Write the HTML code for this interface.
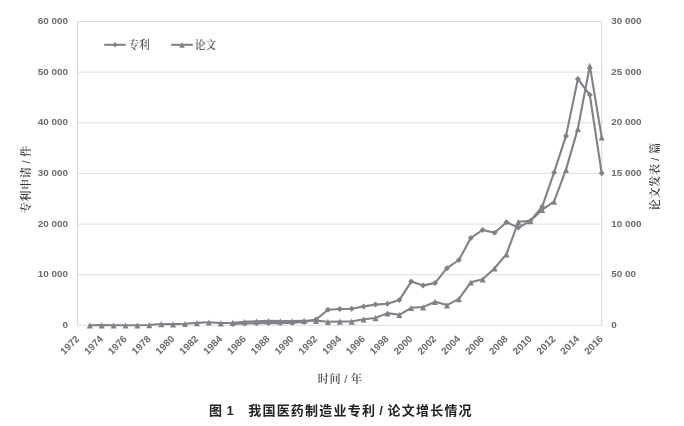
<!DOCTYPE html>
<html lang="zh"><head><meta charset="utf-8"><title>图 1</title>
<style>html,body{margin:0;padding:0;background:#fff}svg{display:block}
.t{font-family:"Liberation Sans","Noto Sans CJK SC",sans-serif;font-weight:bold;font-size:9.9px;fill:#6b6b6b}
.s{font-family:"Liberation Serif","Noto Serif CJK SC",serif;font-size:10.8px;font-weight:600;fill:#5c5c5c}
.a{font-family:"Liberation Serif","Noto Serif CJK SC",serif;font-size:11.2px;font-weight:600;fill:#3a3a3a;letter-spacing:0.5px;word-spacing:-0.3px}
.b{font-family:"Liberation Serif","Noto Serif CJK SC",serif;font-size:11.2px;font-weight:600;fill:#4a4a4a;letter-spacing:0.5px;word-spacing:-0.3px}
.c{font-family:"Liberation Sans","Noto Sans CJK SC",sans-serif;font-weight:bold;font-size:13px;fill:#222;letter-spacing:1.22px}
.sl{font-family:"Liberation Sans",sans-serif;font-weight:normal}
.c1{font-family:"Liberation Sans",sans-serif;font-size:13px;font-weight:bold;fill:#2a2a2a}
</style></head><body>
<svg width="684" height="426" viewBox="0 0 684 426">
<rect width="684" height="426" fill="#fff"/>
<line x1="77.6" y1="325.40" x2="601.7" y2="325.40" stroke="#e0e0e0" stroke-width="1"/>
<line x1="77.6" y1="274.75" x2="601.7" y2="274.75" stroke="#e0e0e0" stroke-width="1"/>
<line x1="77.6" y1="224.10" x2="601.7" y2="224.10" stroke="#e0e0e0" stroke-width="1"/>
<line x1="77.6" y1="173.45" x2="601.7" y2="173.45" stroke="#e0e0e0" stroke-width="1"/>
<line x1="77.6" y1="122.80" x2="601.7" y2="122.80" stroke="#e0e0e0" stroke-width="1"/>
<line x1="77.6" y1="72.15" x2="601.7" y2="72.15" stroke="#e0e0e0" stroke-width="1"/>
<line x1="77.6" y1="21.50" x2="601.7" y2="21.50" stroke="#e0e0e0" stroke-width="1"/>
<line x1="77.6" y1="21.5" x2="77.6" y2="325.4" stroke="#d4d4d8" stroke-width="1"/>
<line x1="601.7" y1="21.5" x2="601.7" y2="325.4" stroke="#d4d4d8" stroke-width="1"/>
<text class="t" x="67.9" y="327.9" text-anchor="end">0</text>
<text class="t" x="611.2" y="327.9">0</text>
<text class="t" x="67.9" y="277.2" text-anchor="end">10 000</text>
<text class="t" x="611.2" y="277.2">50 00</text>
<text class="t" x="67.9" y="226.6" text-anchor="end">20 000</text>
<text class="t" x="611.2" y="226.6">10 000</text>
<text class="t" x="67.9" y="175.9" text-anchor="end">30 000</text>
<text class="t" x="611.2" y="175.9">15 000</text>
<text class="t" x="67.9" y="125.3" text-anchor="end">40 000</text>
<text class="t" x="611.2" y="125.3">20 000</text>
<text class="t" x="67.9" y="74.6" text-anchor="end">50 000</text>
<text class="t" x="611.2" y="74.6">25 000</text>
<text class="t" x="67.9" y="24.0" text-anchor="end">60 000</text>
<text class="t" x="611.2" y="24.0">30 000</text>
<text class="t" text-anchor="end" transform="translate(79.9 339.6) rotate(-45)">1972</text>
<text class="t" text-anchor="end" transform="translate(103.7 339.6) rotate(-45)">1974</text>
<text class="t" text-anchor="end" transform="translate(127.5 339.6) rotate(-45)">1976</text>
<text class="t" text-anchor="end" transform="translate(151.3 339.6) rotate(-45)">1978</text>
<text class="t" text-anchor="end" transform="translate(175.1 339.6) rotate(-45)">1980</text>
<text class="t" text-anchor="end" transform="translate(198.9 339.6) rotate(-45)">1982</text>
<text class="t" text-anchor="end" transform="translate(222.8 339.6) rotate(-45)">1984</text>
<text class="t" text-anchor="end" transform="translate(246.6 339.6) rotate(-45)">1986</text>
<text class="t" text-anchor="end" transform="translate(270.4 339.6) rotate(-45)">1988</text>
<text class="t" text-anchor="end" transform="translate(294.2 339.6) rotate(-45)">1990</text>
<text class="t" text-anchor="end" transform="translate(318.0 339.6) rotate(-45)">1992</text>
<text class="t" text-anchor="end" transform="translate(341.8 339.6) rotate(-45)">1994</text>
<text class="t" text-anchor="end" transform="translate(365.6 339.6) rotate(-45)">1996</text>
<text class="t" text-anchor="end" transform="translate(389.4 339.6) rotate(-45)">1998</text>
<text class="t" text-anchor="end" transform="translate(413.2 339.6) rotate(-45)">2000</text>
<text class="t" text-anchor="end" transform="translate(437.0 339.6) rotate(-45)">2002</text>
<text class="t" text-anchor="end" transform="translate(460.9 339.6) rotate(-45)">2004</text>
<text class="t" text-anchor="end" transform="translate(484.7 339.6) rotate(-45)">2006</text>
<text class="t" text-anchor="end" transform="translate(508.5 339.6) rotate(-45)">2008</text>
<text class="t" text-anchor="end" transform="translate(532.3 339.6) rotate(-45)">2010</text>
<text class="t" text-anchor="end" transform="translate(556.1 339.6) rotate(-45)">2012</text>
<text class="t" text-anchor="end" transform="translate(579.9 339.6) rotate(-45)">2014</text>
<text class="t" text-anchor="end" transform="translate(603.7 339.6) rotate(-45)">2016</text>
<polyline fill="none" stroke="#808287" stroke-width="2.1" stroke-linejoin="round" stroke-linecap="round" points="232.7,323.9 244.6,323.5 256.5,323.3 268.4,322.9 280.3,323.1 292.2,322.7 304.1,321.9 316.0,319.6 327.9,309.8 339.8,309.0 351.7,308.7 363.6,306.4 375.5,304.6 387.4,303.8 399.3,300.1 411.2,281.6 423.1,285.4 435.0,283.1 447.0,268.2 458.9,260.0 470.8,238.0 482.7,229.9 494.6,232.7 506.5,222.3 518.4,227.6 530.3,221.0 542.2,206.7 554.1,172.4 566.0,135.9 577.9,79.0 589.8,94.8 601.7,173.3"/>
<polyline fill="none" stroke="#808287" stroke-width="2.1" stroke-linejoin="round" stroke-linecap="round" points="89.8,325.2 101.7,325.1 113.6,325.3 125.5,325.3 137.4,325.2 149.3,325.0 161.2,324.0 173.1,324.1 185.0,323.8 196.9,322.9 208.9,322.3 220.8,323.1 232.7,322.7 244.6,321.9 256.5,321.3 268.4,320.9 280.3,321.1 292.2,321.1 304.1,320.7 316.0,320.6 327.9,321.8 339.8,321.5 351.7,321.5 363.6,319.2 375.5,318.0 387.4,313.1 399.3,314.8 411.2,307.8 423.1,307.1 435.0,301.7 447.0,305.1 458.9,298.9 470.8,282.3 482.7,279.2 494.6,268.2 506.5,254.1 518.4,221.8 530.3,220.9 542.2,209.8 554.1,201.4 566.0,169.6 577.9,128.6 589.8,65.7 601.7,137.3"/>
<path fill="#808287" d="M232.7 320.9L235.7 323.9L232.7 326.9L229.7 323.9Z"/>
<path fill="#808287" d="M244.6 320.5L247.6 323.5L244.6 326.5L241.6 323.5Z"/>
<path fill="#808287" d="M256.5 320.3L259.5 323.3L256.5 326.3L253.5 323.3Z"/>
<path fill="#808287" d="M268.4 319.9L271.4 322.9L268.4 325.9L265.4 322.9Z"/>
<path fill="#808287" d="M280.3 320.1L283.3 323.1L280.3 326.1L277.3 323.1Z"/>
<path fill="#808287" d="M292.2 319.7L295.2 322.7L292.2 325.7L289.2 322.7Z"/>
<path fill="#808287" d="M304.1 318.9L307.1 321.9L304.1 324.9L301.1 321.9Z"/>
<path fill="#808287" d="M316.0 316.6L319.0 319.6L316.0 322.6L313.0 319.6Z"/>
<path fill="#808287" d="M327.9 306.8L330.9 309.8L327.9 312.8L324.9 309.8Z"/>
<path fill="#808287" d="M339.8 306.0L342.8 309.0L339.8 312.0L336.8 309.0Z"/>
<path fill="#808287" d="M351.7 305.7L354.7 308.7L351.7 311.7L348.7 308.7Z"/>
<path fill="#808287" d="M363.6 303.4L366.6 306.4L363.6 309.4L360.6 306.4Z"/>
<path fill="#808287" d="M375.5 301.6L378.5 304.6L375.5 307.6L372.5 304.6Z"/>
<path fill="#808287" d="M387.4 300.8L390.4 303.8L387.4 306.8L384.4 303.8Z"/>
<path fill="#808287" d="M399.3 297.1L402.3 300.1L399.3 303.1L396.3 300.1Z"/>
<path fill="#808287" d="M411.2 278.6L414.2 281.6L411.2 284.6L408.2 281.6Z"/>
<path fill="#808287" d="M423.1 282.4L426.1 285.4L423.1 288.4L420.1 285.4Z"/>
<path fill="#808287" d="M435.0 280.1L438.0 283.1L435.0 286.1L432.0 283.1Z"/>
<path fill="#808287" d="M447.0 265.2L450.0 268.2L447.0 271.2L444.0 268.2Z"/>
<path fill="#808287" d="M458.9 257.0L461.9 260.0L458.9 263.0L455.9 260.0Z"/>
<path fill="#808287" d="M470.8 235.0L473.8 238.0L470.8 241.0L467.8 238.0Z"/>
<path fill="#808287" d="M482.7 226.9L485.7 229.9L482.7 232.9L479.7 229.9Z"/>
<path fill="#808287" d="M494.6 229.7L497.6 232.7L494.6 235.7L491.6 232.7Z"/>
<path fill="#808287" d="M506.5 219.3L509.5 222.3L506.5 225.3L503.5 222.3Z"/>
<path fill="#808287" d="M518.4 224.6L521.4 227.6L518.4 230.6L515.4 227.6Z"/>
<path fill="#808287" d="M530.3 218.0L533.3 221.0L530.3 224.0L527.3 221.0Z"/>
<path fill="#808287" d="M542.2 203.7L545.2 206.7L542.2 209.7L539.2 206.7Z"/>
<path fill="#808287" d="M554.1 169.4L557.1 172.4L554.1 175.4L551.1 172.4Z"/>
<path fill="#808287" d="M566.0 132.9L569.0 135.9L566.0 138.9L563.0 135.9Z"/>
<path fill="#808287" d="M577.9 76.0L580.9 79.0L577.9 82.0L574.9 79.0Z"/>
<path fill="#808287" d="M589.8 91.8L592.8 94.8L589.8 97.8L586.8 94.8Z"/>
<path fill="#808287" d="M601.7 170.3L604.7 173.3L601.7 176.3L598.7 173.3Z"/>
<path fill="#808287" d="M89.8 322.3L92.8 328.5L86.8 328.5Z"/>
<path fill="#808287" d="M101.7 322.2L104.7 328.4L98.7 328.4Z"/>
<path fill="#808287" d="M113.6 322.4L116.6 328.6L110.6 328.6Z"/>
<path fill="#808287" d="M125.5 322.4L128.5 328.6L122.5 328.6Z"/>
<path fill="#808287" d="M137.4 322.3L140.4 328.5L134.4 328.5Z"/>
<path fill="#808287" d="M149.3 322.1L152.3 328.3L146.3 328.3Z"/>
<path fill="#808287" d="M161.2 321.1L164.2 327.3L158.2 327.3Z"/>
<path fill="#808287" d="M173.1 321.2L176.1 327.4L170.1 327.4Z"/>
<path fill="#808287" d="M185.0 320.9L188.0 327.1L182.0 327.1Z"/>
<path fill="#808287" d="M196.9 320.0L199.9 326.2L193.9 326.2Z"/>
<path fill="#808287" d="M208.9 319.4L211.9 325.6L205.9 325.6Z"/>
<path fill="#808287" d="M220.8 320.2L223.8 326.4L217.8 326.4Z"/>
<path fill="#808287" d="M232.7 319.8L235.7 326.0L229.7 326.0Z"/>
<path fill="#808287" d="M244.6 319.0L247.6 325.2L241.6 325.2Z"/>
<path fill="#808287" d="M256.5 318.4L259.5 324.6L253.5 324.6Z"/>
<path fill="#808287" d="M268.4 318.0L271.4 324.2L265.4 324.2Z"/>
<path fill="#808287" d="M280.3 318.2L283.3 324.4L277.3 324.4Z"/>
<path fill="#808287" d="M292.2 318.2L295.2 324.4L289.2 324.4Z"/>
<path fill="#808287" d="M304.1 317.8L307.1 324.0L301.1 324.0Z"/>
<path fill="#808287" d="M316.0 317.7L319.0 323.9L313.0 323.9Z"/>
<path fill="#808287" d="M327.9 318.9L330.9 325.1L324.9 325.1Z"/>
<path fill="#808287" d="M339.8 318.6L342.8 324.8L336.8 324.8Z"/>
<path fill="#808287" d="M351.7 318.6L354.7 324.8L348.7 324.8Z"/>
<path fill="#808287" d="M363.6 316.3L366.6 322.5L360.6 322.5Z"/>
<path fill="#808287" d="M375.5 315.1L378.5 321.3L372.5 321.3Z"/>
<path fill="#808287" d="M387.4 310.2L390.4 316.4L384.4 316.4Z"/>
<path fill="#808287" d="M399.3 311.9L402.3 318.1L396.3 318.1Z"/>
<path fill="#808287" d="M411.2 304.9L414.2 311.1L408.2 311.1Z"/>
<path fill="#808287" d="M423.1 304.2L426.1 310.4L420.1 310.4Z"/>
<path fill="#808287" d="M435.0 298.8L438.0 305.0L432.0 305.0Z"/>
<path fill="#808287" d="M447.0 302.2L450.0 308.4L444.0 308.4Z"/>
<path fill="#808287" d="M458.9 296.0L461.9 302.2L455.9 302.2Z"/>
<path fill="#808287" d="M470.8 279.4L473.8 285.6L467.8 285.6Z"/>
<path fill="#808287" d="M482.7 276.3L485.7 282.5L479.7 282.5Z"/>
<path fill="#808287" d="M494.6 265.3L497.6 271.5L491.6 271.5Z"/>
<path fill="#808287" d="M506.5 251.2L509.5 257.4L503.5 257.4Z"/>
<path fill="#808287" d="M518.4 218.9L521.4 225.1L515.4 225.1Z"/>
<path fill="#808287" d="M530.3 218.0L533.3 224.2L527.3 224.2Z"/>
<path fill="#808287" d="M542.2 206.9L545.2 213.1L539.2 213.1Z"/>
<path fill="#808287" d="M554.1 198.5L557.1 204.7L551.1 204.7Z"/>
<path fill="#808287" d="M566.0 166.7L569.0 172.9L563.0 172.9Z"/>
<path fill="#808287" d="M577.9 125.7L580.9 131.9L574.9 131.9Z"/>
<path fill="#808287" d="M589.8 62.8L592.8 69.0L586.8 69.0Z"/>
<path fill="#808287" d="M601.7 134.4L604.7 140.6L598.7 140.6Z"/>
<line x1="104.2" y1="44.8" x2="125.7" y2="44.8" stroke="#808287" stroke-width="2.1"/>
<path fill="#808287" d="M115.0 42.2L117.6 44.8L115.0 47.4L112.4 44.8Z"/>
<text class="s" x="128.3" y="48.6">专利</text>
<line x1="171.1" y1="44.8" x2="192.8" y2="44.8" stroke="#808287" stroke-width="2.1"/>
<path fill="#808287" d="M182.0 41.9L184.8 47.7L179.2 47.7Z"/>
<text class="s" x="194.8" y="48.6">论文</text>
<text class="a" text-anchor="middle" transform="translate(29.8 179.3) rotate(-90)">专利申请 <tspan class="sl">/</tspan> 件</text>
<text class="a" text-anchor="middle" transform="translate(659.2 176.4) rotate(-90)">论文发表 <tspan class="sl">/</tspan> 篇</text>
<text class="b" text-anchor="middle" x="340.1" y="382.5">时间 <tspan class="sl">/</tspan> 年</text>
<text class="c" x="208.9" y="415.2">图</text><text class="c1" x="226.6" y="415.2">1</text><text class="c" x="248.2" y="415.2">我国医药制造业专利</text><text class="c1" x="379.3" y="415.2">/</text><text class="c" x="387.5" y="415.2">论文增长情况</text>
</svg>
</body></html>
